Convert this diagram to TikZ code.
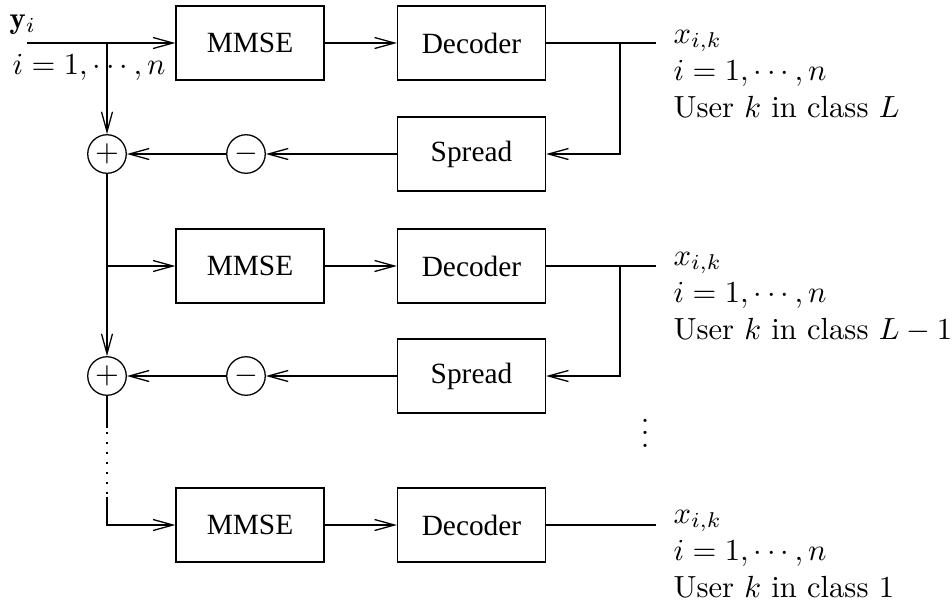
\documentclass[tikz,border=0pt]{standalone}
\usepackage{fontspec}
\newfontfamily\blockfont{Liberation Serif}
\usetikzlibrary{arrows.meta}

\tikzset{
  x=0.327pt, y=-0.327pt,
  wire/.style={line width=0.42pt},
  sig/.style={wire, -{Straight Barb[length=6.5pt,width=3.6pt]}},
  block/.style={draw, line width=0.42pt, minimum width=48.4pt, minimum height=24.2pt,
                inner sep=0pt, font=\blockfont\fontsize{9.6}{11}\selectfont},
  summer/.style={draw, circle, line width=0.42pt, minimum size=12.6pt, inner sep=0pt},
  lbl/.style={anchor=base west, inner sep=0pt},
}

\begin{document}
\begin{tikzpicture}
\useasboundingbox (0,0) rectangle (952,609);

% ---- stage L ----
\coordinate (in1) at (27,43);
\coordinate (br0) at (107,43);
\node[block] (mmse1) at (250,43) {MMSE};
\node[block] (dec1) at (471.5,43) {Decoder};
\node[block] (spr1) at (471.5,154) {Spread};
\node[summer] (p1) at (107,154) {$+$};
\node[summer] (m1) at (246,154) {$-$};
\coordinate (fb1) at (620,43);
\coordinate (out1) at (656,43);

% ---- stage L-1 ----
\coordinate (j2) at (107,266);
\node[block] (mmse2) at (250,266) {MMSE};
\node[block] (dec2) at (471.5,266) {Decoder};
\node[block] (spr2) at (471.5,376) {Spread};
\node[summer] (p2) at (107,376) {$+$};
\node[summer] (m2) at (246,376) {$-$};
\coordinate (fb2) at (620,266);
\coordinate (out2) at (656,266);

% ---- stage 1 ----
\coordinate (d1) at (107,428);
\coordinate (d2) at (107,497);
\node[block] (mmse3) at (250,525) {MMSE};
\node[block] (dec3) at (471.5,525) {Decoder};
\coordinate (out3) at (656,525);

% connectors, stage L
\draw[sig] (in1) -- (mmse1.west);
\draw[sig] (br0) -- (p1.north);
\draw[sig] (mmse1) -- (dec1);
\draw[wire] (dec1.east) -- (out1);
\draw[sig] (fb1) |- (spr1.east);
\draw[sig] (spr1) -- (m1);
\draw[sig] (m1) -- (p1);

% connectors, stage L-1
\draw[sig] (p1.south) -- (p2.north);
\draw[sig] (j2) -- (mmse2.west);
\draw[sig] (mmse2) -- (dec2);
\draw[wire] (dec2.east) -- (out2);
\draw[sig] (fb2) |- (spr2.east);
\draw[sig] (spr2) -- (m2);
\draw[sig] (m2) -- (p2);

% connectors, stage 1
\draw[wire] (p2.south) -- (d1);
\draw[wire, dash pattern=on 0.9pt off 2.37pt, dash phase=-1.2pt] (d1) -- (d2);
\draw[sig] (d2) |- (mmse3.west);
\draw[sig] (mmse3) -- (dec3);
\draw[wire] (dec3.east) -- (out3);

% input labels
\node[lbl] (yin) at (9,28) {$\mathbf{y}_i$};
\node[lbl] (iin) at (12,74) {$i=1,\cdots,n$};

% output labels
\node[lbl] (o1a) at (673,43) {$x_{i,k}$};
\node[lbl] (o1b) at (673,80) {$i=1,\cdots,n$};
\node[lbl] (o1c) at (673,117) {User $k$ in class $L$};

\node[lbl] (o2a) at (673,265) {$x_{i,k}$};
\node[lbl] (o2b) at (673,302) {$i=1,\cdots,n$};
\node[lbl] (o2c) at (673,339) {User $k$ in class $L-1$};

\node (vd) at (645,424) {$\vdots$};

\node[lbl] (o3a) at (673,523) {$x_{i,k}$};
\node[lbl] (o3b) at (673,560) {$i=1,\cdots,n$};
\node[lbl] (o3c) at (673,597) {User $k$ in class $1$};
\end{tikzpicture}
\end{document}
